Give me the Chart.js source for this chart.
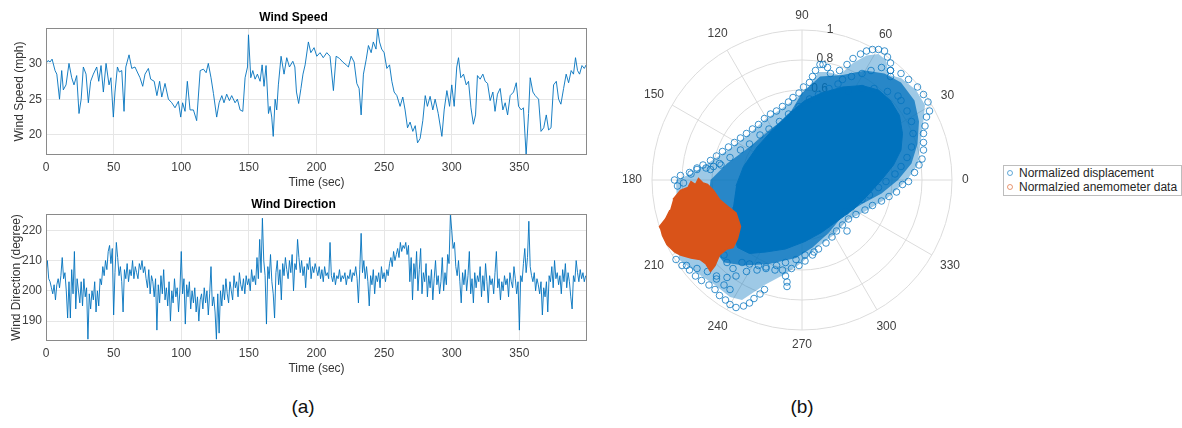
<!DOCTYPE html>
<html>
<head>
<meta charset="utf-8">
<script src="https://cdn.jsdelivr.net/npm/chart.js@4.4.1/dist/chart.umd.min.js"></script>
<style>
  body { margin: 0; width: 1182px; height: 428px; background: #fff; position: relative; overflow: hidden;
         font-family: "Liberation Sans", Arial, sans-serif; }
  canvas { position: absolute; }
  #speed { left: 0; top: 0; }
  #direction { left: 0; top: 190px; }
  #polar { left: 620px; top: 0; }
  .legend { position: absolute; left: 1003px; top: 165px; width: 177px; padding: 0 0 1px 0;
            border: 1px solid #bdbdbd; background: #fff; font-size: 12px; color: #262626; }
  .legend div { height: 14px; line-height: 14px; white-space: nowrap; }
  .legend span { display: inline-block; width: 4px; height: 4px; border-radius: 50%; margin: 0 6px 1px 3px;
                 vertical-align: middle; }
  .cap { position: absolute; top: 396px; width: 40px; text-align: center; font-size: 19px; line-height: 22px; color: #111; }
</style>
</head>
<body>
<canvas id="speed" width="600" height="190"></canvas>
<canvas id="direction" width="600" height="186"></canvas>
<canvas id="polar" width="370" height="380"></canvas>
<div class="legend">
  <div><span style="border:1px solid rgba(0,114,189,0.6)"></span>Normalized displacement</div>
  <div><span style="border:1px solid rgba(217,83,25,0.6)"></span>Normalzied anemometer data</div>
</div>
<div class="cap" style="left:283px">(a)</div>
<div class="cap" style="left:782px">(b)</div>

<script>
const FONT = '"Liberation Sans", Arial, sans-serif';
Chart.defaults.font.family = FONT;
Chart.defaults.font.size = 12;
Chart.defaults.color = '#404040';
Chart.defaults.animation = false;

// ---- wind speed (mph) vs time (sec)
const speedTime = [0,1.5,3,4.5,6.7,8,10,11.6,12.8,14.8,17,19,20.7,22.7,24.4,26,27.6,29.6,31.3,33,35,37.5,39,40.7,42.4,44.4,46.6,48,49.8,51,
  52.8,54.2,56,57.7,59,61.4,63.4,65.8,67.5,69.5,71.5,73.2,75.7,77.4,80,82,84,85.6,88,90.5,93,95.4,97.9,99.6,101,102.8,104.5,106.5,109,111.4,
  114,116.4,118.4,120,122,123.8,126.2,128,130,131.6,133.6,135.6,137.3,139.8,141.5,143.5,145.5,147.2,149,149.7,151.4,152.9,154.6,156.3,158.3,159.8,161.2,162.7,164.5,165.7,
  166.9,168,169.4,170.6,171.8,173.8,176,178,180,182.5,184,185.2,186.8,188.5,190,191.6,194,195.8,198.2,200.2,202.6,205,207.6,210,212.5,214.5,217,219.4,
  221.9,223.6,225.6,227.8,229.8,231.5,233,234.7,236.7,238.4,240.4,242,244,245.2,246.6,248.2,250,252,254,255.7,257.4,259.4,261.8,263.8,265.5,267.3,269.2,271.2,
  273,274.7,276.6,278.6,280.4,282,284,286,287.7,290,292.7,294.4,296.4,298.4,300,301.8,303.7,305,306.7,308.7,310.7,312.4,314.2,316,317.6,319,321,323,324.7,326.5,
  328.4,330.4,332,333.8,335.8,337.8,339.5,341.3,343.2,345.7,347.7,349.4,351.4,353,355,356.8,358,360,361.7,364.2,366,368,369.9,371.6,373.4,375.3,377.3,379,380.7,382.7,
  384.6,386.4,388.3,390,391.5,393,394.5,396.3,398,399.4];
const speedValue = [30.0,30.4,30.2,30.6,29.0,28.5,25.0,29.0,26.3,27.0,30.0,28.0,27.0,28.3,23.0,25.0,29.5,28.5,24.5,27.5,28.5,29.5,27.5,29.7,26.0,30.0,27.0,28.0,22.5,26.0,
  29.5,28.8,29.0,23.3,29.5,31.2,29.3,29.5,28.8,28.0,26.8,28.5,29.3,27.8,27.5,25.5,27.5,25.3,27.2,25.0,24.5,23.8,24.7,22.5,24.5,23.3,27.5,23.5,23.5,22.0,
  29.0,29.2,28.7,30.0,28.0,25.8,22.5,24.5,25.5,24.5,25.7,24.8,25.5,24.5,25.0,23.5,23.3,28.0,29.5,34.0,28.0,29.0,27.8,28.5,27.5,29.8,26.8,29.7,23.0,24.0,
  22.5,19.8,25.0,23.5,27.0,31.0,28.5,30.8,29.5,30.3,29.5,26.0,24.4,26.5,28.5,29.8,33.0,31.5,32.2,31.0,31.5,30.8,31.5,31.0,26.2,31.0,30.7,30.2,
  29.8,29.5,31.0,30.2,27.2,26.5,22.8,28.5,30.5,32.5,31.5,33.0,32.0,34.9,33.0,32.0,31.5,29.3,29.8,27.5,26.0,25.5,24.0,25.3,23.5,21.0,21.8,20.5,
  21.3,18.9,19.5,22.0,25.5,24.0,25.4,23.5,25.0,23.0,19.8,23.5,26.2,24.0,27.0,24.0,29.5,30.8,28.0,28.5,27.0,27.5,23.8,21.5,22.8,28.3,27.8,28.5,27.5,27.2,
  24.8,26.0,23.3,25.7,26.5,23.5,24.5,22.8,25.5,26.0,27.3,24.0,23.5,23.8,17.2,23.0,28.0,26.0,25.5,25.0,20.5,21.0,22.8,20.7,21.0,27.0,27.5,25.0,24.3,26.5,
  28.5,27.3,29.0,28.5,30.8,29.0,28.5,29.7,29.3,29.8];
const speedTicks = [20, 25, 30];

// ---- wind direction (degree), one sample per second
const dirValue = [
  206,210,204,203,201,199,202,197,202,204,201,205,211,204,206,200,191,203,191,207,
  199,213,194,204,200,196,203,195,204,198,201,184,199,194,200,197,203,193,200,195,
  204,202,208,205,210,207,213,215,209,214,192,206,216,211,205,208,203,193,207,204,
  209,203,207,205,210,204,208,206,204,209,207,210,206,208,204,201,207,199,205,203,
  198,204,187,202,196,205,199,207,197,201,195,203,190,200,196,204,198,201,193,200,
  213,199,204,189,202,198,203,194,200,196,201,193,198,190,197,199,194,201,196,200,
  192,199,208,195,198,193,184,199,186,200,195,202,197,204,199,196,203,200,197,205,
  201,203,198,206,202,200,204,199,205,202,204,200,207,203,205,202,211,204,217,206,
  224,210,205,189,208,204,212,203,199,191,206,210,202,207,197,209,205,211,207,204,
  210,206,212,200,209,207,217,211,206,210,205,208,201,209,207,211,204,208,206,209,
  207,205,208,204,207,203,208,205,206,204,216,205,203,206,202,205,204,207,203,205,
  204,206,202,205,204,207,203,206,205,208,204,196,207,219,206,210,204,208,203,195,
  205,202,207,199,205,203,206,201,208,204,206,203,207,205,209,211,208,213,210,212,
  214,211,216,213,215,214,216,212,215,203,211,197,209,204,213,200,207,214,199,206,
  203,209,198,205,201,207,197,204,210,202,205,199,203,211,200,206,202,212,209,225,
  220,214,216,208,205,210,203,196,206,202,207,200,205,213,199,204,196,206,201,205,
  203,208,198,205,200,209,203,196,205,202,204,199,206,213,201,204,197,203,200,205,
  202,204,198,206,203,201,208,204,199,203,187,205,203,209,214,206,211,223,208,205,
  203,206,200,204,202,199,203,192,201,198,203,193,205,203,208,201,210,204,206,202,
  205,199,207,203,209,201,206,203,198,194,205,203,210,206,203,207,204,206,203,205];
const dirTime = dirValue.map((_, i) => i);
const dirTicks = [190, 200, 210, 220];
const timeTicks = [0, 50, 100, 150, 200, 250, 300, 350];

// ---- polar plot: normalized displacement (x, y components)
// individual samples on the loops around the dense cloud
const dispX = [
  -0.74,-0.70,-0.66,-0.61,-0.57,-0.53,-0.49,-0.45,-0.41,-0.37,-0.33,-0.29,-0.25,-0.21,-0.17,-0.13,-0.09,-0.06,-0.02,0.01,0.05,0.07,0.09,0.12,0.14,0.17,0.19,
  -0.61,-0.55,-0.48,-0.41,-0.35,-0.28,-0.22,-0.15,-0.09,-0.02,0.05,0.11,0.18,0.24,
  0.25,0.30,0.34,0.39,0.43,0.47,0.51,0.55,0.57,0.59,0.59,0.59,
  0.27,0.33,0.40,0.46,0.53,0.59,0.66,0.71,0.77,0.81,0.84,0.85,0.83,
  0.31,0.40,0.48,0.57,0.64,
  0.82,0.81,0.81,0.81,0.80,0.78,0.75,
  0.71,0.67,0.63,0.58,0.53,0.47,0.42,0.36,0.31,0.27,0.23,0.20,0.16,0.11,0.07,0.02,0.30,
  0.66,0.70,0.73,0.74,0.73,0.70,0.66,0.62,0.56,0.51,0.45,0.40,0.34,0.29,
  -0.02,-0.07,-0.13,-0.18,-0.24,-0.29,-0.35,-0.40,-0.11,-0.10,-0.10,
  -0.84,-0.80,-0.75,-0.71,-0.67,-0.62,-0.58,-0.55,-0.51,-0.48,-0.44,-0.39,-0.35,-0.32,-0.28,-0.25,
  -0.77,-0.70,-0.63,-0.57,-0.50,-0.44,-0.37,-0.30,-0.24,-0.17,-0.11,-0.04,0.02,0.08,
  -0.57,-0.52,-0.50,-0.46,-0.57,-0.52,-0.48,
  -0.85,-0.81,-0.75,-0.70,-0.64,-0.59,-0.54,-0.83,-0.79];
const dispY = [
  0.04,0.08,0.10,0.13,0.16,0.19,0.22,0.25,0.28,0.31,0.34,0.37,0.41,0.44,0.46,0.49,0.52,0.55,0.58,0.62,0.65,0.69,0.73,0.77,0.77,0.75,0.71,
  0.07,0.11,0.15,0.20,0.24,0.30,0.34,0.39,0.44,0.49,0.54,0.57,0.61,0.64,
  0.73,0.77,0.81,0.84,0.86,0.87,0.87,0.86,0.82,0.78,0.73,0.69,
  0.67,0.69,0.71,0.73,0.75,0.73,0.71,0.67,0.62,0.57,0.52,0.46,0.42,
  0.59,0.61,0.61,0.59,0.56,
  0.36,0.31,0.25,0.20,0.14,0.10,0.05,
  -0.01,-0.03,-0.08,-0.11,-0.14,-0.17,-0.20,-0.23,-0.26,-0.30,-0.34,-0.38,-0.42,-0.46,-0.50,-0.54,-0.34,
  0.53,0.46,0.39,0.31,0.22,0.15,0.09,0.04,-0.01,-0.05,-0.10,-0.13,-0.16,-0.21,
  -0.57,-0.59,-0.60,-0.60,-0.58,-0.57,-0.56,-0.55,-0.64,-0.68,-0.71,
  -0.53,-0.57,-0.60,-0.64,-0.67,-0.70,-0.73,-0.77,-0.80,-0.83,-0.85,-0.84,-0.82,-0.79,-0.76,-0.73,
  -0.57,-0.59,-0.61,-0.64,-0.65,-0.64,-0.61,-0.60,-0.59,-0.57,-0.55,-0.53,-0.50,-0.48,
  -0.46,-0.50,-0.55,-0.59,-0.66,-0.70,-0.73,
  0.00,0.03,0.05,0.07,0.08,0.09,0.10,-0.04,-0.02];
// outline of the saturated core where samples overlap completely
const coreX = [-0.44,-0.39,-0.30,-0.20,-0.09,0.02,0.13,0.27,0.40,0.51,0.59,0.65,0.67,0.66,0.61,0.53,0.44,0.35,0.24,0.13,0.02,-0.11,-0.24,-0.35,-0.43,-0.46,-0.46];
const coreY = [-0.04,0.09,0.22,0.33,0.44,0.53,0.58,0.62,0.63,0.60,0.53,0.43,0.31,0.20,0.10,0.00,-0.10,-0.19,-0.27,-0.35,-0.41,-0.46,-0.48,-0.49,-0.45,-0.35,-0.18];
// outline of the dense band of samples around the core
const bandX = [-0.61,-0.50,-0.35,-0.22,-0.09,0.00,0.12,0.27,0.42,0.55,0.66,0.75,0.78,0.77,0.73,0.64,0.53,0.40,0.27,0.18,0.07,-0.04,-0.22,-0.39,-0.52,-0.61,-0.63];
const bandY = [0.00,0.11,0.22,0.33,0.43,0.58,0.69,0.70,0.73,0.71,0.65,0.53,0.39,0.24,0.11,0.00,-0.09,-0.16,-0.24,-0.35,-0.45,-0.52,-0.56,-0.57,-0.55,-0.44,-0.18];
// outer envelope of the sparse loops
const fringeX = [-0.72,-0.60,-0.48,-0.36,-0.25,-0.13,-0.02,0.05,0.11,0.17,0.25,0.34,0.43,0.51,0.56,0.58,0.66,0.76,0.82,0.81,0.79,0.77,0.70,0.57,0.42,0.30,0.22,0.10,0.00,-0.10,-0.25,-0.40,-0.48,-0.58,-0.70,-0.82,-0.84];
const fringeY = [0.05,0.13,0.21,0.30,0.40,0.48,0.56,0.63,0.72,0.72,0.70,0.78,0.83,0.84,0.80,0.70,0.68,0.60,0.50,0.40,0.25,0.10,0.00,-0.12,-0.21,-0.27,-0.36,-0.45,-0.55,-0.62,-0.70,-0.80,-0.78,-0.70,-0.62,-0.53,0.00];
// normalized anemometer data (outline of the sample cluster)
const windX = [-0.86,-0.81,-0.76,-0.74,-0.71,-0.69,-0.66,-0.63,-0.59,-0.55,-0.49,-0.44,-0.41,-0.43,-0.46,-0.50,-0.55,-0.58,-0.61,-0.64,-0.68,-0.74,-0.81,-0.85,-0.90,-0.93,-0.94,-0.95,-0.91,-0.88];
const windY = [-0.13,-0.07,-0.05,-0.01,-0.03,0.01,-0.02,-0.03,-0.07,-0.13,-0.18,-0.22,-0.31,-0.39,-0.45,-0.46,-0.50,-0.57,-0.61,-0.56,-0.53,-0.52,-0.50,-0.48,-0.43,-0.37,-0.33,-0.31,-0.26,-0.20];
const thetaTicks = [0, 30, 60, 90, 120, 150, 180, 210, 240, 270, 300, 330];
const rTicks = [0, 0.2, 0.4, 0.6, 0.8, 1];

const toPts = (xs, ys) => xs.map((v, i) => ({x: v, y: ys[i]}));

// frame around the plotting area
const axesBox = {
  id: 'axesBox',
  afterDatasetsDraw(chart) {
    const {ctx, chartArea: a} = chart;
    ctx.save();
    ctx.strokeStyle = '#8a8a8a';
    ctx.lineWidth = 1;
    ctx.strokeRect(Math.round(a.left) + 0.5, Math.round(a.top) + 0.5,
                   Math.round(a.right - a.left) - 1, Math.round(a.bottom - a.top) - 1);
    ctx.restore();
  }
};

function timeChart(id, title, yTitle, points, yMin, yMax, yTicks, titlePad, yTitlePad) {
  return new Chart(document.getElementById(id), {
    type: 'scatter',
    data: { datasets: [{ data: points, showLine: true, borderColor: '#0072BD', borderWidth: 0.9,
                         pointRadius: 0, tension: 0 }] },
    options: {
      responsive: false,
      animation: false,
      layout: { padding: { left: 0, right: 13, top: 0, bottom: 0 } },
      plugins: {
        legend: { display: false },
        tooltip: { enabled: false },
        title: { display: true, text: title, color: '#000', font: { size: 12, weight: 'bold' }, padding: titlePad }
      },
      scales: {
        x: {
          type: 'linear', min: 0, max: 400,
          afterBuildTicks: s => { s.ticks = timeTicks.map(v => ({ value: v })); },
          afterFit: s => { s.height = 35; },
          grid: { color: '#e6e6e6', drawTicks: false },
          border: { display: false },
          ticks: { padding: 5, color: '#404040' },
          title: { display: true, text: 'Time (sec)', color: '#333', padding: 0 }
        },
        y: {
          min: yMin, max: yMax,
          afterBuildTicks: s => { s.ticks = yTicks.map(v => ({ value: v })); },
          afterFit: s => { s.width = 46; },
          grid: { color: '#e6e6e6', drawTicks: false },
          border: { display: false },
          ticks: { padding: 4, color: '#404040' },
          title: { display: true, text: yTitle, color: '#333', padding: { top: yTitlePad, bottom: 0 } }
        }
      }
    },
    plugins: [axesBox]
  });
}

timeChart('speed', 'Wind Speed', 'Wind Speed (mph)', toPts(speedTime, speedValue),
          17.2, 34.95, speedTicks, { top: 10.8, bottom: 2.8 }, 12.8);
timeChart('direction', 'Wind Direction', 'Wind Direction (degree)', toPts(dirTime, dirValue),
          183.4, 225.4, dirTicks, { top: 7.8, bottom: 1.8 }, 9);

// polar grid, angle labels and radius labels drawn under the data
const polarGrid = {
  id: 'polarGrid',
  beforeDatasetsDraw(chart) {
    const {ctx, scales: {x, y}} = chart;
    const cx = x.getPixelForValue(0), cy = y.getPixelForValue(0);
    const R = x.getPixelForValue(1) - cx;
    ctx.save();
    ctx.strokeStyle = '#dcdcdc';
    ctx.lineWidth = 1;
    rTicks.forEach(r => {
      if (r === 0) return;
      ctx.beginPath();
      ctx.arc(cx, cy, R * r, 0, Math.PI * 2);
      ctx.stroke();
    });
    thetaTicks.forEach(t => {
      const a = t * Math.PI / 180;
      ctx.beginPath();
      ctx.moveTo(cx, cy);
      ctx.lineTo(cx + R * Math.cos(a), cy - R * Math.sin(a));
      ctx.stroke();
    });
    ctx.fillStyle = '#404040';
    ctx.font = '12px ' + FONT;
    ctx.textAlign = 'center';
    ctx.textBaseline = 'middle';
    thetaTicks.forEach(t => {
      const a = t * Math.PI / 180;
      const txt = String(t);
      const w = ctx.measureText(txt).width;
      const d = R + 10 + Math.abs(Math.cos(a)) * w / 2 + Math.abs(Math.sin(a)) * 4.5;
      ctx.fillText(txt, cx + d * Math.cos(a), cy - d * Math.sin(a));
    });
    const ra = 80 * Math.PI / 180;
    rTicks.forEach(r => {
      ctx.fillText(String(r), cx + R * r * Math.cos(ra) + 2, cy - R * r * Math.sin(ra) - 3);
    });
    ctx.restore();
  }
};

new Chart(document.getElementById('polar'), {
  type: 'scatter',
  data: {
    datasets: [
      { data: toPts(windX, windY), showLine: true, fill: 'shape', backgroundColor: '#D95319',
        borderColor: '#D95319', borderWidth: 1.5, pointRadius: 0 },
      { data: toPts(dispX, dispY), backgroundColor: 'rgba(0,0,0,0)', borderColor: 'rgba(0,114,189,0.75)',
        borderWidth: 1, pointRadius: 3.3 },
      { data: toPts(coreX, coreY), showLine: true, fill: 'shape', backgroundColor: '#0072BD',
        borderColor: '#0072BD', borderWidth: 1, pointRadius: 0 },
      { data: toPts(bandX, bandY), showLine: true, fill: 'shape', backgroundColor: 'rgba(0,114,189,0.75)',
        borderWidth: 0, pointRadius: 0 },
      { data: toPts(fringeX, fringeY), showLine: true, fill: 'shape', backgroundColor: 'rgba(0,114,189,0.38)',
        borderWidth: 0, pointRadius: 0 }
    ]
  },
  options: {
    responsive: false,
    animation: false,
    layout: { padding: { left: 32, right: 38, top: 30, bottom: 50 } },
    plugins: { legend: { display: false }, tooltip: { enabled: false } },
    scales: {
      x: { type: 'linear', min: -1, max: 1, display: false },
      y: { type: 'linear', min: -1, max: 1, display: false }
    }
  },
  plugins: [polarGrid]
});
</script>
</body>
</html>
